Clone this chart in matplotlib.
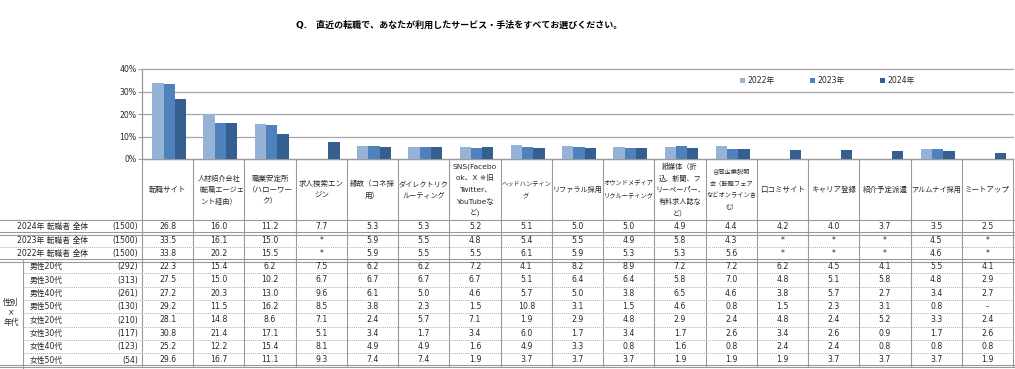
import numpy as np
import matplotlib.pyplot as plt

plt.rcParams['font.family'] = ['DejaVu Sans', 'Noto Sans CJK JP']

categories = ['転職サイト', '人材紹介会社\n（転職エージェ\nント経由）', '職業安定所\n（ハローワー\nク）',
              '求人検索エン\nジン', '縁故（コネ採\n用）', 'ダイレクトリク\nルーティング',
              'SNS(Facebo\nok、X ※旧\nTwitter、\nYouTubeな\nど)', 'ヘッドハンティン\nグ', 'リファラル採用',
              'オウンドメディア\nリクルーティング', '紙媒体（折\n込、新聞、フ\nリーペーパー、\n有料求人誌な\nど）',
              '合同企業説明\n会（転職フェア\nなどオンライン含\nむ）', '口コミサイト', 'キャリア登録',
              '紹介予定派遣', 'アルムナイ採用', 'ミートアップ']
years = ['2022年', '2023年', '2024年']
share_2022 = [33.8, 20.2, 15.5, None, 5.9, 5.5, 5.5, 6.1, 5.9, 5.3, 5.3, 5.6, None, None, None, 4.6, None]
share_2023 = [33.5, 16.1, 15.0, None, 5.9, 5.5, 4.8, 5.4, 5.5, 4.9, 5.8, 4.3, None, None, None, 4.5, None]
share_2024 = [26.8, 16.0, 11.2, 7.7, 5.3, 5.3, 5.2, 5.1, 5.0, 5.0, 4.9, 4.4, 4.2, 4.0, 3.7, 3.5, 2.5]

total_labels = ['2024年 転職者 全体', '2023年 転職者 全体', '2022年 転職者 全体']
total_n = [1500, 1500, 1500]
total_rows = [share_2024, share_2023, share_2022]

group_labels = ['男性20代', '男性30代', '男性40代', '男性50代', '女性20代', '女性30代', '女性40代', '女性50代']
group_n = [292, 313, 261, 130, 210, 117, 123, 54]
group_rows = [
    [22.3, 15.4, 6.2, 7.5, 6.2, 6.2, 7.2, 4.1, 8.2, 8.9, 7.2, 7.2, 6.2, 4.5, 4.1, 5.5, 4.1],
    [27.5, 15.0, 10.2, 6.7, 6.7, 6.7, 6.7, 5.1, 6.4, 6.4, 5.8, 7.0, 4.8, 5.1, 5.8, 4.8, 2.9],
    [27.2, 20.3, 13.0, 9.6, 6.1, 5.0, 4.6, 5.7, 5.0, 3.8, 6.5, 4.6, 3.8, 5.7, 2.7, 3.4, 2.7],
    [29.2, 11.5, 16.2, 8.5, 3.8, 2.3, 1.5, 10.8, 3.1, 1.5, 4.6, 0.8, 1.5, 2.3, 3.1, 0.8, None],
    [28.1, 14.8, 8.6, 7.1, 2.4, 5.7, 7.1, 1.9, 2.9, 4.8, 2.9, 2.4, 4.8, 2.4, 5.2, 3.3, 2.4],
    [30.8, 21.4, 17.1, 5.1, 3.4, 1.7, 3.4, 6.0, 1.7, 3.4, 1.7, 2.6, 3.4, 2.6, 0.9, 1.7, 2.6],
    [25.2, 12.2, 15.4, 8.1, 4.9, 4.9, 1.6, 4.9, 3.3, 0.8, 1.6, 0.8, 2.4, 2.4, 0.8, 0.8, 0.8],
    [29.6, 16.7, 11.1, 9.3, 7.4, 7.4, 1.9, 3.7, 3.7, 3.7, 1.9, 1.9, 1.9, 3.7, 3.7, 3.7, 1.9],
]

colors = ['#95b3d7', '#4f81bd', '#365f91']
txt = '#262626'
line = '#9a9a9a'

W, H = 1015, 369
fig = plt.figure(figsize=(W / 100, H / 100), dpi=100)

# table layer in pixel coordinates
tab = fig.add_axes([0, 0, 1, 1])
tab.set_xlim(0, W)
tab.set_ylim(H, 0)
tab.axis('off')

n = len(categories)
x0, x1 = 142, 1013
cw = (x1 - x0) / n

# bar chart
ax = fig.add_axes([x0 / W, 1 - 159 / H, (x1 - x0) / W, 90 / H])
ax.patch.set_alpha(0)
pos = np.arange(n)
bw = 0.22
for k, vals in enumerate([share_2022, share_2023, share_2024]):
    h = [np.nan if v is None else v for v in vals]
    ax.bar(pos + (k - 1) * bw + 0.03, h, bw, color=colors[k], label=years[k], zorder=3)
ax.set_xlim(-0.5, n - 0.5)
ax.set_ylim(0, 40)
ax.set_yticks([0, 10, 20, 30, 40])
ax.set_yticklabels([f'{v}%' for v in [0, 10, 20, 30, 40]], fontsize=5.6, color=txt)
ax.set_xticks([])
ax.tick_params(axis='y', length=3, color=line, width=0.7, pad=1)
ax.grid(axis='y', color='#a6a6a6', lw=0.9, clip_on=False)
ax.set_axisbelow(True)
for s in ['top', 'right']:
    ax.spines[s].set_visible(False)
for s in ['left', 'bottom']:
    ax.spines[s].set_color(line)
    ax.spines[s].set_linewidth(0.9)

fig.legend(loc='center left', bbox_to_anchor=(733 / W, 1 - 81 / H), ncol=3, frameon=False,
           fontsize=5.6, handlelength=0.6, handleheight=0.6, handletextpad=0.3,
           columnspacing=4.6, labelcolor=txt)

fig.text(459 / W, 1 - 25 / H, 'Q.　直近の転職で、あなたが利用したサービス・手法をすべてお選びください。',
         ha='center', va='center', fontsize=6.5, fontweight='bold', color='black')

# header labels, one text per line
renderer = fig.canvas.get_renderer()
for i, lab in enumerate(categories):
    cx = x0 + (i + 0.5) * cw
    lines = lab.split('\n')
    fs = 5.4
    probe = [tab.text(0, 0, l, fontsize=fs) for l in lines]
    wmax = max(t.get_window_extent(renderer).width for t in probe)
    for t in probe:
        t.remove()
    if wmax > cw - 1.5:
        fs = fs * (cw - 1.5) / wmax
    m = len(lines)
    for j, l in enumerate(lines):
        y = 189.5 + (j - (m - 1) / 2) * 11.6
        tab.text(cx, y, l, ha='center', va='center', fontsize=fs, color=txt)

# grid of the table
lw = 0.8
for k in range(n + 1):
    tab.plot([x0 + k * cw] * 2, [159, 366], color=line, lw=lw)
tab.plot([0, W], [220, 220], color=line, lw=lw)
for y in [232.3, 234.7, 259.3, 261.7, 364.8, 367.2]:
    tab.plot([0, W], [y, y], color=line, lw=lw)
tab.plot([0, W], [247, 247], color='#b0b0b0', lw=0.7, ls=(0, (1, 1)))
for y in [273, 286.5, 300, 313, 326.5, 340, 353]:
    tab.plot([23, W], [y, y], color='#b0b0b0', lw=0.7, ls=(0, (1, 1)))
tab.plot([23, 23], [260, H], color=line, lw=lw)


def fmt(v, missing):
    return missing if v is None else f'{v:.1f}'


fs = 5.6
total_y = [226.5, 240.3, 253.5]
for lab, nn, row, y in zip(total_labels, total_n, total_rows, total_y):
    tab.text(17, y, lab, ha='left', va='center', fontsize=fs, color=txt)
    tab.text(138, y, f'({nn})', ha='right', va='center', fontsize=fs, color=txt)
    for i, v in enumerate(row):
        tab.text(x0 + (i + 0.5) * cw, y, fmt(v, '*'), ha='center', va='center', fontsize=fs, color=txt)

group_y = [266.5, 280, 293.2, 306.5, 320, 333.2, 346.5, 360]
for lab, nn, row, y in zip(group_labels, group_n, group_rows, group_y):
    tab.text(30, y, lab, ha='left', va='center', fontsize=fs, color=txt)
    tab.text(138, y, f'({nn})', ha='right', va='center', fontsize=fs, color=txt)
    for i, v in enumerate(row):
        tab.text(x0 + (i + 0.5) * cw, y, fmt(v, '-'), ha='center', va='center', fontsize=fs, color=txt)

for s, y in zip(['性別', '×', '年代'], [302, 312.5, 322.5]):
    tab.text(11, y, s, ha='center', va='center', fontsize=fs, color=txt)

fig.savefig('out.png', dpi=100)
